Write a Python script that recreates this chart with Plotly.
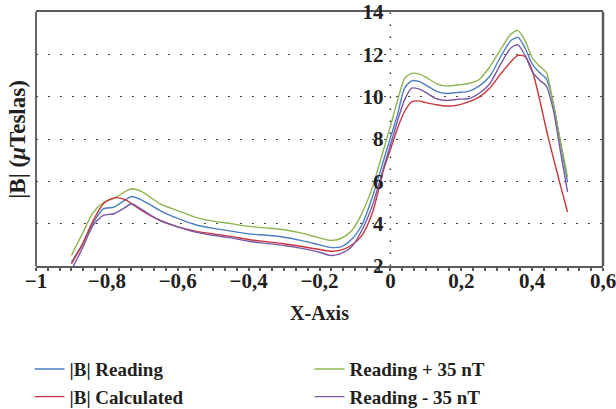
import plotly.graph_objects as go

x_pos = [-0.9, -0.87, -0.84, -0.81, -0.78, -0.75, -0.73, -0.70, -0.65, -0.60,
         -0.55, -0.50, -0.45, -0.40, -0.35, -0.30, -0.25, -0.20, -0.17, -0.14,
         -0.11, -0.08, -0.05, -0.02, 0.0, 0.02, 0.04, 0.06, 0.08, 0.10,
         0.13, 0.16, 0.19, 0.22, 0.25, 0.28, 0.31, 0.34, 0.36, 0.38,
         0.40, 0.42, 0.44, 0.46, 0.48, 0.50]

b_reading = [2.18, 3.0, 4.0, 4.70, 4.78, 5.1, 5.28, 5.1, 4.62, 4.25,
             3.95, 3.78, 3.65, 3.52, 3.45, 3.36, 3.2, 3.0, 2.88, 2.9,
             3.25, 3.95, 5.3, 6.95, 8.05, 9.15, 10.4, 10.75, 10.72, 10.55,
             10.25, 10.15, 10.2, 10.25, 10.5, 10.95, 11.85, 12.65, 12.8, 12.3,
             11.55, 11.15, 10.85, 9.67, 7.8, 5.95]

b_calculated = [2.1, 3.0, 4.1, 4.94, 5.22, 5.15, 4.94, 4.6, 4.15, 3.85,
                3.65, 3.52, 3.40, 3.25, 3.15, 3.05, 2.92, 2.78, 2.70, 2.75,
                2.98, 3.45, 4.55, 6.5, 7.5, 8.5, 9.3, 9.75, 9.8, 9.72,
                9.62, 9.56, 9.6, 9.75, 9.98, 10.4, 11.05, 11.65, 11.95, 11.9,
                11.25, 9.95, 8.45, 7.1, 5.8, 4.55]

reading_plus = [2.5, 3.5, 4.5, 5.0, 5.2, 5.5, 5.65, 5.5, 4.94, 4.62,
                4.3, 4.12, 4.0, 3.87, 3.8, 3.71, 3.55, 3.33, 3.21, 3.3,
                3.65, 4.5, 5.75, 7.46, 8.6, 9.8, 10.85, 11.1, 11.08, 10.92,
                10.62, 10.5, 10.55, 10.62, 10.8, 11.4, 12.2, 12.95, 13.12, 12.65,
                11.85, 11.45, 11.15, 9.6, 7.9, 6.2]

reading_minus = [1.82, 2.8, 3.9, 4.39, 4.47, 4.75, 4.94, 4.65, 4.15, 3.85,
                 3.6, 3.45, 3.33, 3.17, 3.07, 2.97, 2.83, 2.65, 2.50, 2.58,
                 2.9, 3.7, 4.9, 6.6, 7.7, 8.85, 9.85, 10.4, 10.37, 10.2,
                 9.9, 9.82, 9.88, 9.9, 10.15, 10.6, 11.5, 12.3, 12.45, 11.95,
                 11.2, 10.8, 10.5, 9.35, 7.4, 5.5]

series_names = ["|B| Reading", "Reading + 35 nT", "|B| Calculated", "Reading - 35 nT"]
series_values = [b_reading, reading_plus, b_calculated, reading_minus]
series_colors = ["#4a7fc1", "#8fb44e", "#c8373c", "#7a58a8"]

x_ticks = [-1, -0.8, -0.6, -0.4, -0.2, 0, 0.2, 0.4, 0.6]
y_ticks = [2, 4, 6, 8, 10, 12, 14]

FONT = "Liberation Serif"
TXT = "#231f20"

fig = go.Figure()
for name, vals, col in zip(series_names, series_values, series_colors):
    fig.add_trace(go.Scatter(
        x=x_pos, y=vals, mode="lines", name=name,
        line=dict(color=col, width=1.4, shape="spline", smoothing=0.7),
    ))

fig.update_layout(
    width=616, height=409,
    margin=dict(l=36, r=13, t=12, b=143, autoexpand=False),
    paper_bgcolor="white", plot_bgcolor="white",
    separators=", ",
    showlegend=True,
    legend=dict(
        orientation="h", xref="container", x=0.048, xanchor="left",
        yref="container", y=0.144, yanchor="top",
        entrywidth=235, entrywidthmode="pixels",
        font=dict(family=FONT, size=19, color=TXT, weight=700),
        bgcolor="rgba(0,0,0,0)", itemwidth=30, tracegroupgap=0,
    ),
    xaxis=dict(
        range=[-1, 0.6], tickvals=x_ticks, automargin=False,
        showgrid=False, zeroline=False,
        showline=True, mirror=True, linecolor="#5a5a5a", linewidth=2.2,
        ticks="outside", ticklen=3, tickcolor="#5a5a5a", tickwidth=1.5,
        minor=dict(dtick=1/30, tick0=-1, ticks="outside", ticklen=3,
                   tickcolor="#5a5a5a", tickwidth=1.5, showgrid=False),
        tickfont=dict(family=FONT, size=21, color=TXT, weight=700),
        ticklabelstandoff=-8, ticklabeloverflow="allow",
        title=dict(text="X-Axis", standoff=14,
                   font=dict(family=FONT, size=20, color=TXT, weight=700)),
    ),
    yaxis=dict(
        range=[2, 14], tickvals=y_ticks, automargin=False,
        anchor="free", position=0.625,
        showline=False, zeroline=False, ticks="",
        showgrid=True, gridcolor="#444444", gridwidth=1.2, griddash="1.5px,10.5px",
        tickfont=dict(family=FONT, size=21, color=TXT, weight=700),
        ticklabelstandoff=7, ticklabeloverflow="allow",
    ),
    shapes=[
        dict(type="line", xref="x", yref="paper", x0=0, x1=0, y0=0, y1=1,
             line=dict(color="#333333", width=1.5, dash="1.5px,10.5px"), layer="below"),
        dict(type="line", xref="paper", yref="paper", x0=0, x1=0, y0=0, y1=1,
             line=dict(color="#333333", width=1.5)),
        dict(type="line", xref="paper", yref="paper", x0=1, x1=1, y0=0, y1=1,
             line=dict(color="#5a5a5a", width=2.5)),
    ],
    annotations=[
        dict(text="|B| (<i>μ</i>Teslas)", xref="paper", yref="paper",
             x=-0.034, y=0.5, textangle=-90, showarrow=False,
             xanchor="center", yanchor="middle",
             font=dict(family=FONT, size=23, color=TXT, weight=700)),
    ],
)

fig.write_html("out.html")
